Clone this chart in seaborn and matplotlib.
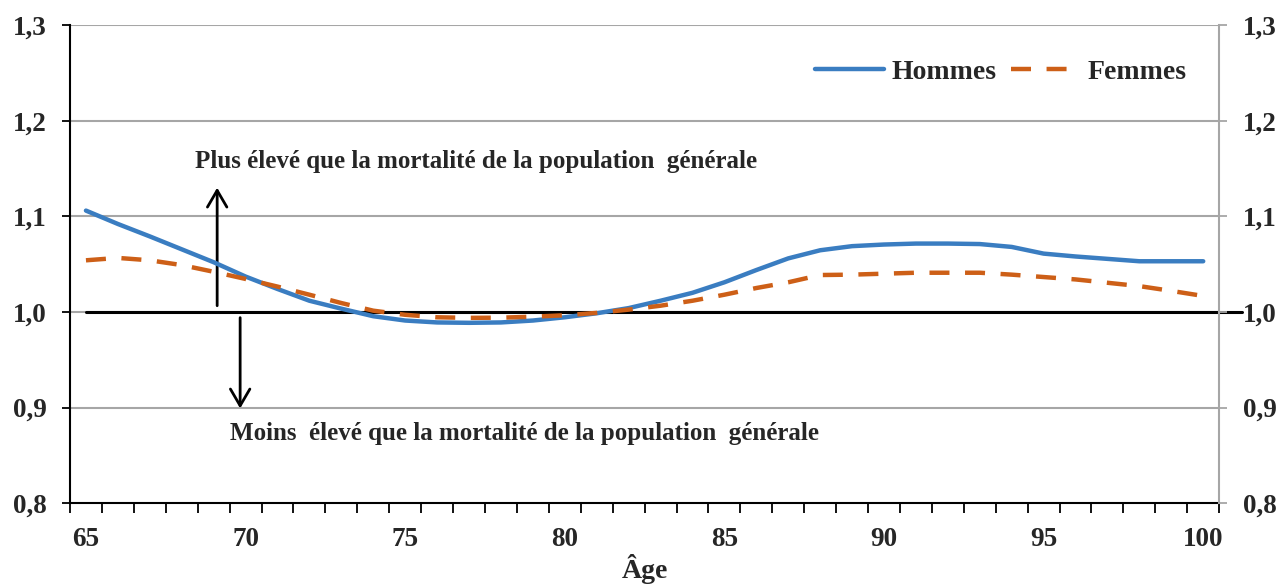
import pandas as pd
import seaborn as sns
import matplotlib.pyplot as plt

ages = list(range(65, 101))

hommes = [1.106, 1.092, 1.079, 1.0655, 1.052, 1.037, 1.024, 1.0117, 1.0034, 0.9955,
          0.991, 0.989, 0.9886, 0.989, 0.991, 0.9944, 0.9986, 1.004, 1.0117, 1.020,
          1.031, 1.0438, 1.056, 1.0645, 1.0688, 1.0705, 1.0715, 1.0715, 1.071, 1.068,
          1.061, 1.058, 1.0555, 1.053, 1.053, 1.053]

femmes = [1.054, 1.0565, 1.054, 1.049, 1.042, 1.0345, 1.0265, 1.018, 1.0093, 1.0013,
          0.997, 0.9944, 0.9938, 0.994, 0.995, 0.9965, 0.999, 1.0024, 1.0065, 1.0117,
          1.018, 1.025, 1.031, 1.0386, 1.039, 1.040, 1.041, 1.041, 1.041, 1.039,
          1.0365, 1.034, 1.0305, 1.027, 1.022, 1.0167]

# reference line at 1.0 (runs a bit past the right axis, as in the original)
ref_ages = [65, 101.2]
ref_values = [1.0, 1.0]

y_ticks = [0.8, 0.9, 1.0, 1.1, 1.2, 1.3]
y_labels = ["0,8", "0,9", "1,0", "1,1", "1,2", "1,3"]
x_ticks = [65, 70, 75, 80, 85, 90, 95, 100]

text_up = "Plus élevé que la mortalité de la population  générale"
text_down = "Moins  élevé que la mortalité de la population  générale"

df = pd.DataFrame({"age": ages, "Hommes": hommes, "Femmes": femmes})

sns.set_style("white")
plt.rcParams["font.family"] = ["Liberation Serif", "DejaVu Serif"]
plt.rcParams["font.weight"] = "bold"

fig, ax = plt.subplots(figsize=(12.82, 5.85), dpi=100)
fig.subplots_adjust(left=0.0546, right=0.951, top=0.957, bottom=0.14)

grid_color = "#a6a6a6"
for yv in y_ticks[1:]:
    ax.axhline(yv, color=grid_color, lw=1.5, zorder=0)

ax.plot(ref_ages, ref_values, color="black", lw=2.2, clip_on=False, zorder=3)

sns.lineplot(data=df, x="age", y="Hommes", ax=ax, color="#3a7dc1", lw=3.2,
             label="Hommes", zorder=4)
sns.lineplot(data=df, x="age", y="Femmes", ax=ax, color="#cd5f17", lw=3.2,
             linestyle=(0, (4.5, 3.5)), label="Femmes", zorder=5)

ax.set_xlim(64.5, 100.5)
ax.set_ylim(0.8, 1.3)
ax.set_yticks(y_ticks)
ax.set_yticklabels(y_labels, fontsize=19.5, fontweight="bold")
ax.set_xticks(x_ticks)
ax.set_xticklabels([str(a) for a in x_ticks], fontsize=19.5, fontweight="bold")
ax.set_xticks([a - 0.5 for a in ages] + [100.5], minor=True)
ax.tick_params(axis="x", which="major", length=0, pad=17)
ax.tick_params(axis="x", which="minor", length=7, width=1.3, color="black",
               direction="out", bottom=True)
ax.tick_params(axis="y", length=6, width=1.3, color="black", direction="out",
               pad=11, left=True)
ax.set_xlabel("Âge", fontsize=20, fontweight="bold", labelpad=2)
ax.set_ylabel("")

for side in ["top"]:
    ax.spines[side].set_visible(False)
ax.spines["left"].set_color("black")
ax.spines["left"].set_linewidth(1.5)
ax.spines["bottom"].set_color("black")
ax.spines["bottom"].set_linewidth(1.5)
ax.spines["right"].set_visible(False)

ax2 = ax.twinx()
ax2.set_ylim(0.8, 1.3)
ax2.set_yticks(y_ticks)
ax2.set_yticklabels(y_labels, fontsize=19.5, fontweight="bold")
ax2.tick_params(axis="y", length=6, width=1.3, color=grid_color, direction="out",
                pad=11, right=True)
for side in ["top", "left", "bottom"]:
    ax2.spines[side].set_visible(False)
ax2.spines["right"].set_color(grid_color)
ax2.spines["right"].set_linewidth(1.5)

# arrows and annotation texts
arrow_kw = dict(arrowstyle="->,head_length=0.6,head_width=0.35", lw=2,
                color="black", shrinkA=0, shrinkB=0, mutation_scale=20)
ax.annotate("", xy=(69.11, 1.130), xytext=(69.11, 1.0065), arrowprops=arrow_kw)
ax.annotate("", xy=(69.83, 0.899), xytext=(69.83, 0.994), arrowprops=arrow_kw)
ax.text(68.42, 1.1577, text_up, fontsize=18, fontweight="bold",
        ha="left", va="center")
ax.text(69.52, 0.873, text_down, fontsize=18, fontweight="bold",
        ha="left", va="center")

leg = ax.legend(loc="center left", bbox_to_anchor=(0.648, 0.9017), ncol=2,
                frameon=False, fontsize=20, handlelength=2.5, handletextpad=0.25,
                columnspacing=0.55, borderaxespad=0, borderpad=0)
for t in leg.get_texts():
    t.set_fontweight("bold")

fig.savefig("out.png", dpi=100)
